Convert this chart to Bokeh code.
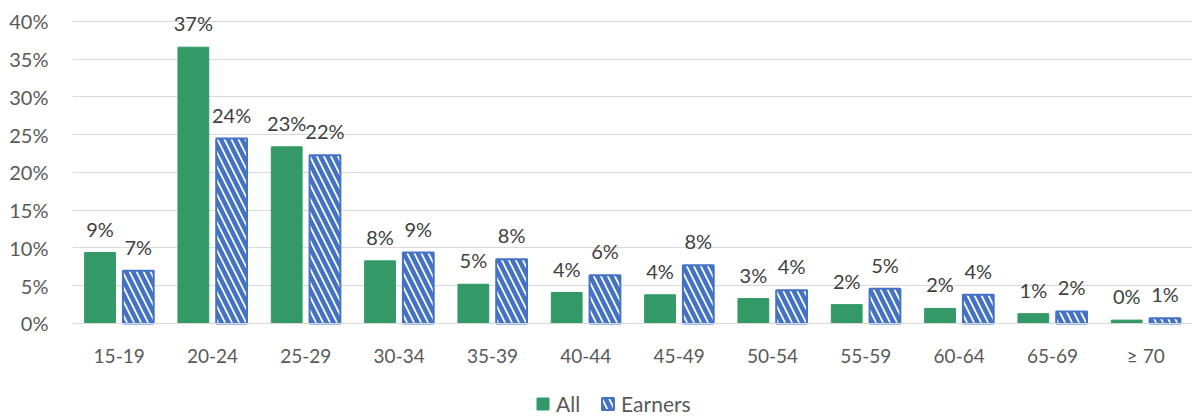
from bokeh.plotting import figure
from bokeh.models import ColumnDataSource, FactorRange, FixedTicker, PrintfTickFormatter, Legend, LegendItem
from bokeh.transform import dodge
from bokeh.core.properties import value
from bokeh.embed import file_html
from bokeh.resources import INLINE

categories = ["15-19", "20-24", "25-29", "30-34", "35-39", "40-44", "45-49",
              "50-54", "55-59", "60-64", "65-69", "\u2265 70"]
all_vals = [9.4, 36.6, 23.4, 8.3, 5.2, 4.1, 3.8, 3.3, 2.5, 2.0, 1.3, 0.45]
earners_vals = [7.0, 24.5, 22.3, 9.4, 8.5, 6.4, 7.7, 4.4, 4.6, 3.8, 1.6, 0.7]
y_ticks = [0, 5, 10, 15, 20, 25, 30, 35, 40]

src = ColumnDataSource(dict(
    cat=categories,
    all=all_vals,
    earn=earners_vals,
    all_lbl=[f"{v:.0f}%" for v in all_vals],
    earn_lbl=[f"{v:.0f}%" for v in earners_vals],
))

FONT = "Lato"
GREEN = "#339966"
BLUE = "#4472C4"

p = figure(x_range=FactorRange(*categories, range_padding=0), y_range=(-12.45, 42.78),
           frame_width=1120, frame_height=417, output_backend="svg", toolbar_location=None,
           min_border_left=72, min_border_right=0, min_border_top=0, min_border_bottom=0)
p.outline_line_color = None
p.background_fill_color = "white"

r1 = p.vbar(x=dodge("cat", -0.205, range=p.x_range), top="all", width=0.33, source=src,
            fill_color=GREEN, line_color=GREEN)
r2 = p.vbar(x=dodge("cat", 0.205, range=p.x_range), top="earn", width=0.33, source=src,
            fill_color="white", line_color=BLUE, line_width=2,
            hatch_pattern="\\", hatch_color=BLUE, hatch_scale=14, hatch_weight=4.5)

for key, off in (("all", -0.205), ("earn", 0.205)):
    p.text(x=dodge("cat", off, range=p.x_range), y=key, text=key + "_lbl", source=src,
           text_align="center", text_baseline="bottom", y_offset=-12,
           text_font=value(FONT), text_font_size="20px", text_color="#404040")

p.yaxis.ticker = FixedTicker(ticks=y_ticks)
p.yaxis.formatter = PrintfTickFormatter(format="%d%%")
p.yaxis.axis_line_color = None
p.yaxis.major_tick_line_color = None
p.yaxis.minor_tick_line_color = None
p.yaxis.major_label_standoff = 18
p.yaxis.major_label_text_font = FONT
p.yaxis.major_label_text_font_size = "20px"
p.yaxis.major_label_text_color = "#595959"

p.xaxis.fixed_location = 0
p.xaxis.axis_line_color = "#d9d9d9"
p.xaxis.axis_line_width = 1
p.xaxis.major_tick_line_color = None
p.xaxis.minor_tick_line_color = None
p.xaxis.major_tick_out = 0
p.xaxis.major_tick_in = 0
p.xaxis.major_label_standoff = 21
p.xaxis.major_label_text_font = FONT
p.xaxis.major_label_text_font_size = "19px"
p.xaxis.major_label_text_color = "#595959"

p.xgrid.grid_line_color = None
p.ygrid.grid_line_color = "#d9d9d9"
p.ygrid.grid_line_width = 1

legend = Legend(items=[LegendItem(label="All", renderers=[r1]),
                       LegendItem(label="Earners", renderers=[r2])],
                orientation="horizontal", location=(463, 1),
                label_text_font=FONT, label_text_font_size="21px", label_text_color="#595959",
                label_height=20, glyph_width=15, glyph_height=15, spacing=20, label_standoff=6,
                border_line_color=None, background_fill_alpha=0, margin=0, padding=2)
p.add_layout(legend, "center")

open("out.html", "w").write(file_html(p, INLINE))
